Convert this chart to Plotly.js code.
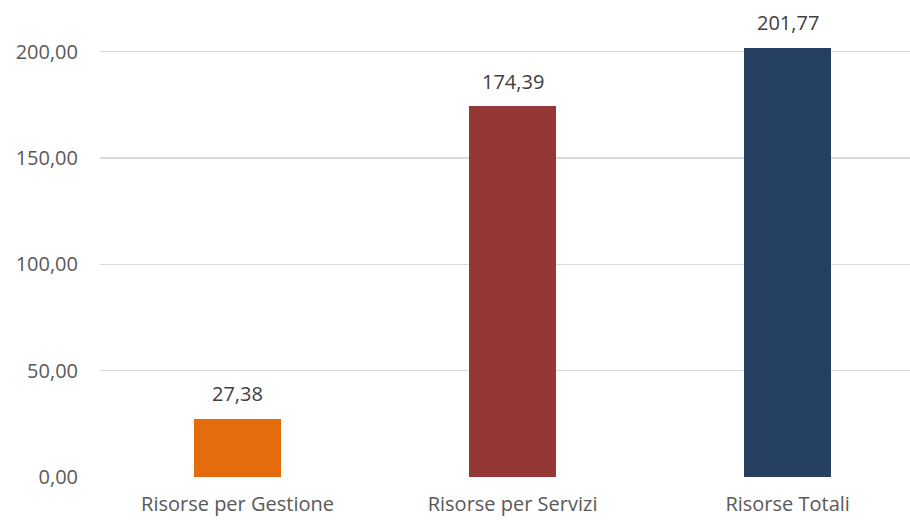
<!DOCTYPE html>
<html>
<head>
<meta charset="utf-8">
<script src="https://cdn.plot.ly/plotly-3.0.1.min.js"></script>
<style>html,body{margin:0;padding:0;background:#fff}#chart{width:910px;height:520px}</style>
</head>
<body>
<div id="chart"></div>
<script>
const categories = ["Risorse per Gestione", "Risorse per Servizi", "Risorse Totali"];
const values = [27.38, 174.39, 201.77];
const colors = ["#E46C0A", "#953735", "#254061"];
const yTicks = [0, 50, 100, 150, 200];

const fmt = v => v.toFixed(2).replace(".", ",");

const trace = {
  type: "bar",
  x: categories,
  y: values,
  width: 0.316,
  marker: {color: colors, line: {width: 0}},
  hoverinfo: "skip"
};

const annotations = categories.map((c, i) => ({
  x: c, y: values[i], xref: "x", yref: "y",
  text: fmt(values[i]),
  showarrow: false,
  yanchor: "middle",
  yshift: 25,
  font: {family: "Open Sans, sans-serif", size: 20, color: "#404040"}
}));

const layout = {
  width: 910, height: 520,
  margin: {l: 100, r: 0, t: 0, b: 43.3},
  paper_bgcolor: "#ffffff",
  plot_bgcolor: "#ffffff",
  separators: ",.",
  showlegend: false,
  bargap: 0,
  annotations: annotations,
  xaxis: {
    type: "category",
    range: [-0.5, 2.445],
    showgrid: false,
    zeroline: false,
    showline: false,
    ticks: "",
    ticklabelstandoff: 13,
    tickfont: {family: "Open Sans, sans-serif", size: 20, color: "#595959"},
    automargin: false
  },
  yaxis: {
    range: [0, 224.3],
    tickvals: yTicks,
    tickformat: ".2f",
    showgrid: true,
    gridcolor: "#D9D9D9",
    gridwidth: 1.5,
    zeroline: false,
    showline: false,
    ticks: "",
    ticklabelstandoff: 21,
    tickfont: {family: "Open Sans, sans-serif", size: 20, color: "#595959"},
    automargin: false
  }
};

Plotly.newPlot("chart", [trace], layout, {displayModeBar: false, staticPlot: true});
</script>
</body>
</html>
